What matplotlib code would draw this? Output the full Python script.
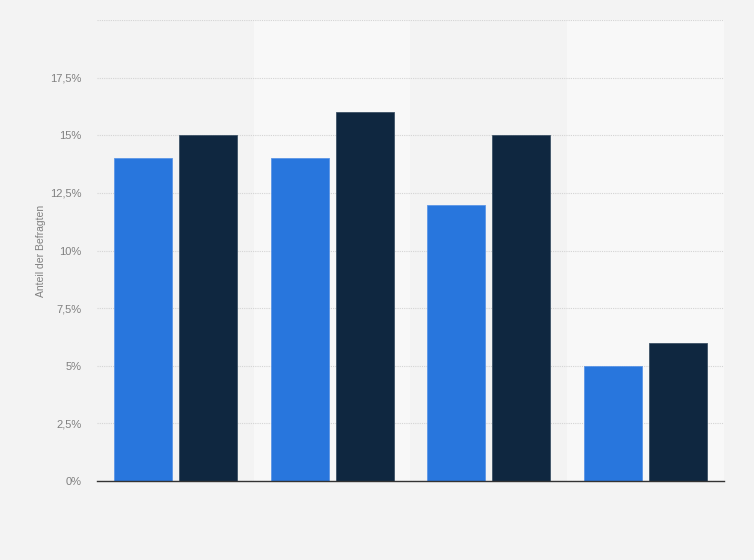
import numpy as np
import matplotlib.pyplot as plt
from matplotlib.ticker import FuncFormatter

plt.rcParams['font.family'] = ['Liberation Sans', 'DejaVu Sans']

# Daten
kategorien = ['', '', '', '']
serie_1 = [14, 14, 12, 5]
serie_2 = [15, 16, 15, 6]
y_ticks = [0, 2.5, 5, 7.5, 10, 12.5, 15, 17.5, 20]

fig = plt.figure(figsize=(7.54, 5.6), dpi=100, facecolor='#f3f3f3')
ax = fig.add_axes([0.1286, 0.141, 0.8316, 0.823])
ax.set_facecolor('#f3f3f3')

x = np.arange(len(kategorien))

# abwechselnde Hintergrundstreifen
for i in x:
    if i % 2 == 1:
        ax.axvspan(i - 0.5, i + 0.5, color='#f8f8f8', zorder=0, lw=0)

ax.bar(x - 0.207, serie_1, width=0.37, color='#2876dd', zorder=3,
       edgecolor='#5b95e6', linewidth=0.6)
ax.bar(x + 0.207, serie_2, width=0.37, color='#0f2740', zorder=3,
       edgecolor='#3d5266', linewidth=0.6)

ax.set_xlim(-0.5, len(kategorien) - 0.5)
ax.set_ylim(0, 20)
ax.set_yticks(y_ticks)

def fmt(v, pos):
    if v >= 20:
        return ''
    s = ('%g' % v).replace('.', ',')
    return s + '%'

ax.yaxis.set_major_formatter(FuncFormatter(fmt))
ax.set_xticks(x)
ax.set_xticklabels(kategorien)

ax.grid(axis='y', color='#d4d4d4', linestyle=(0, (1, 1)), linewidth=0.8, zorder=1)
ax.tick_params(axis='both', length=0, labelsize=8, labelcolor='#808080', pad=11)

for s in ['top', 'right', 'left']:
    ax.spines[s].set_visible(False)
ax.spines['bottom'].set_color('#333333')
ax.spines['bottom'].set_linewidth(1)
ax.spines['bottom'].set_zorder(4)

ax.set_ylabel('Anteil der Befragten', fontsize=7.5, color='#808080', labelpad=3)

fig.savefig('out.png', dpi=100, facecolor=fig.get_facecolor())
